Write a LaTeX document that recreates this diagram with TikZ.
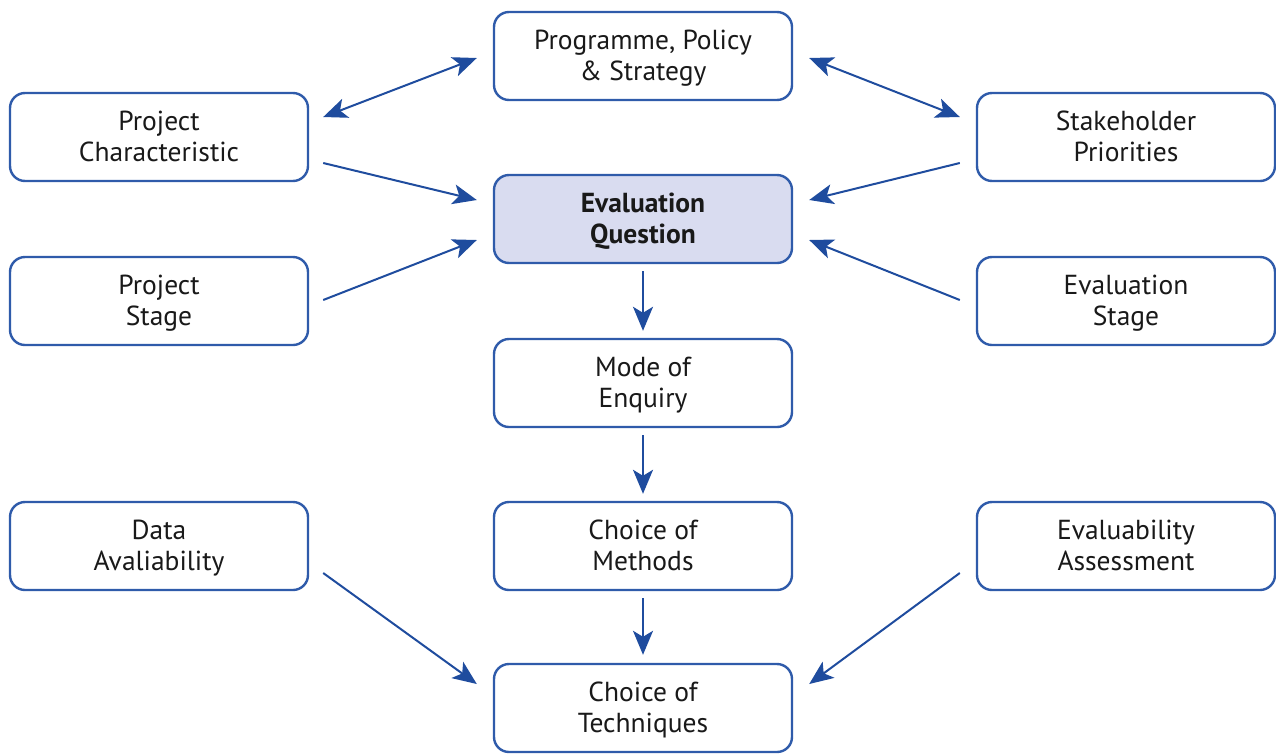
\documentclass[tikz,border=0pt]{standalone}
\usepackage{fontspec}
\setmainfont{PT Sans}
\usetikzlibrary{arrows.meta}
\definecolor{boxblue}{HTML}{2F5BAA}
\definecolor{arrblue}{HTML}{1F4C9E}
\definecolor{qfill}{HTML}{D9DCF0}
\tikzset{bigtip/.tip={Stealth[length=24pt,width=20pt,inset=6pt]}}
\begin{document}
\begin{tikzpicture}[x=1pt,y=-1pt,
  box/.style={draw=boxblue, line width=2.4pt, rounded corners=15pt, fill=white,
    minimum width=298pt, minimum height=88pt, align=center,
    font=\fontsize{27.5}{31}\selectfont, text=black!90, inner sep=0pt,
    text height=54pt, text depth=6pt},
  arr/.style={draw=arrblue, line width=2pt, -{bigtip}},
  darr/.style={draw=arrblue, line width=2pt, {bigtip}-{bigtip}}]
\useasboundingbox (0,0) rectangle (1276,753);
\node[box] (prog) at (643,56) {Programme, Policy\\\& Strategy};
\node[box] (pc) at (159,137) {Project\\Characteristic};
\node[box] (sp) at (1126,137) {Stakeholder\\Priorities};
\node[box, fill=qfill, font=\fontsize{27.5}{31}\selectfont\bfseries] (eq) at (643,219) {Evaluation\\Question};
\node[box] (ps) at (159,301) {Project\\Stage};
\node[box] (es) at (1126,301) {Evaluation\\Stage};
\node[box] (moe) at (643,383) {Mode of\\Enquiry};
\node[box] (da) at (159,546) {Data\\Avaliability};
\node[box] (com) at (643,546) {Choice of\\Methods};
\node[box] (ea) at (1126,546) {Evaluability\\Assessment};
\node[box] (cot) at (643,708) {Choice of\\Techniques};

\draw[darr] ([shift={(14,-20)}]pc.east) -- ([shift={(-16,2)}]prog.west);
\draw[arr] ([shift={(14,26)}]pc.east) -- ([shift={(-16,-19)}]eq.west);
\draw[arr] ([shift={(14,-1)}]ps.east) -- ([shift={(-16,21)}]eq.west);
\draw[darr] ([shift={(16,2)}]prog.east) -- ([shift={(-16,-20)}]sp.west);
\draw[arr] ([shift={(-16,26)}]sp.west) -- ([shift={(16,-19)}]eq.east);
\draw[arr] ([shift={(-16,-1)}]es.west) -- ([shift={(16,21)}]eq.east);
\draw[arr] ([yshift=-7pt]eq.south) -- ([yshift=7pt]moe.north);
\draw[arr] ([yshift=-7pt]moe.south) -- ([yshift=7pt]com.north);
\draw[arr] ([yshift=-7pt]com.south) -- ([yshift=8pt]cot.north);
\draw[arr] ([shift={(14,27)}]da.east) -- ([shift={(-16,-24)}]cot.west);
\draw[arr] ([shift={(-16,27)}]ea.west) -- ([shift={(16,-24)}]cot.east);
\end{tikzpicture}
\end{document}
